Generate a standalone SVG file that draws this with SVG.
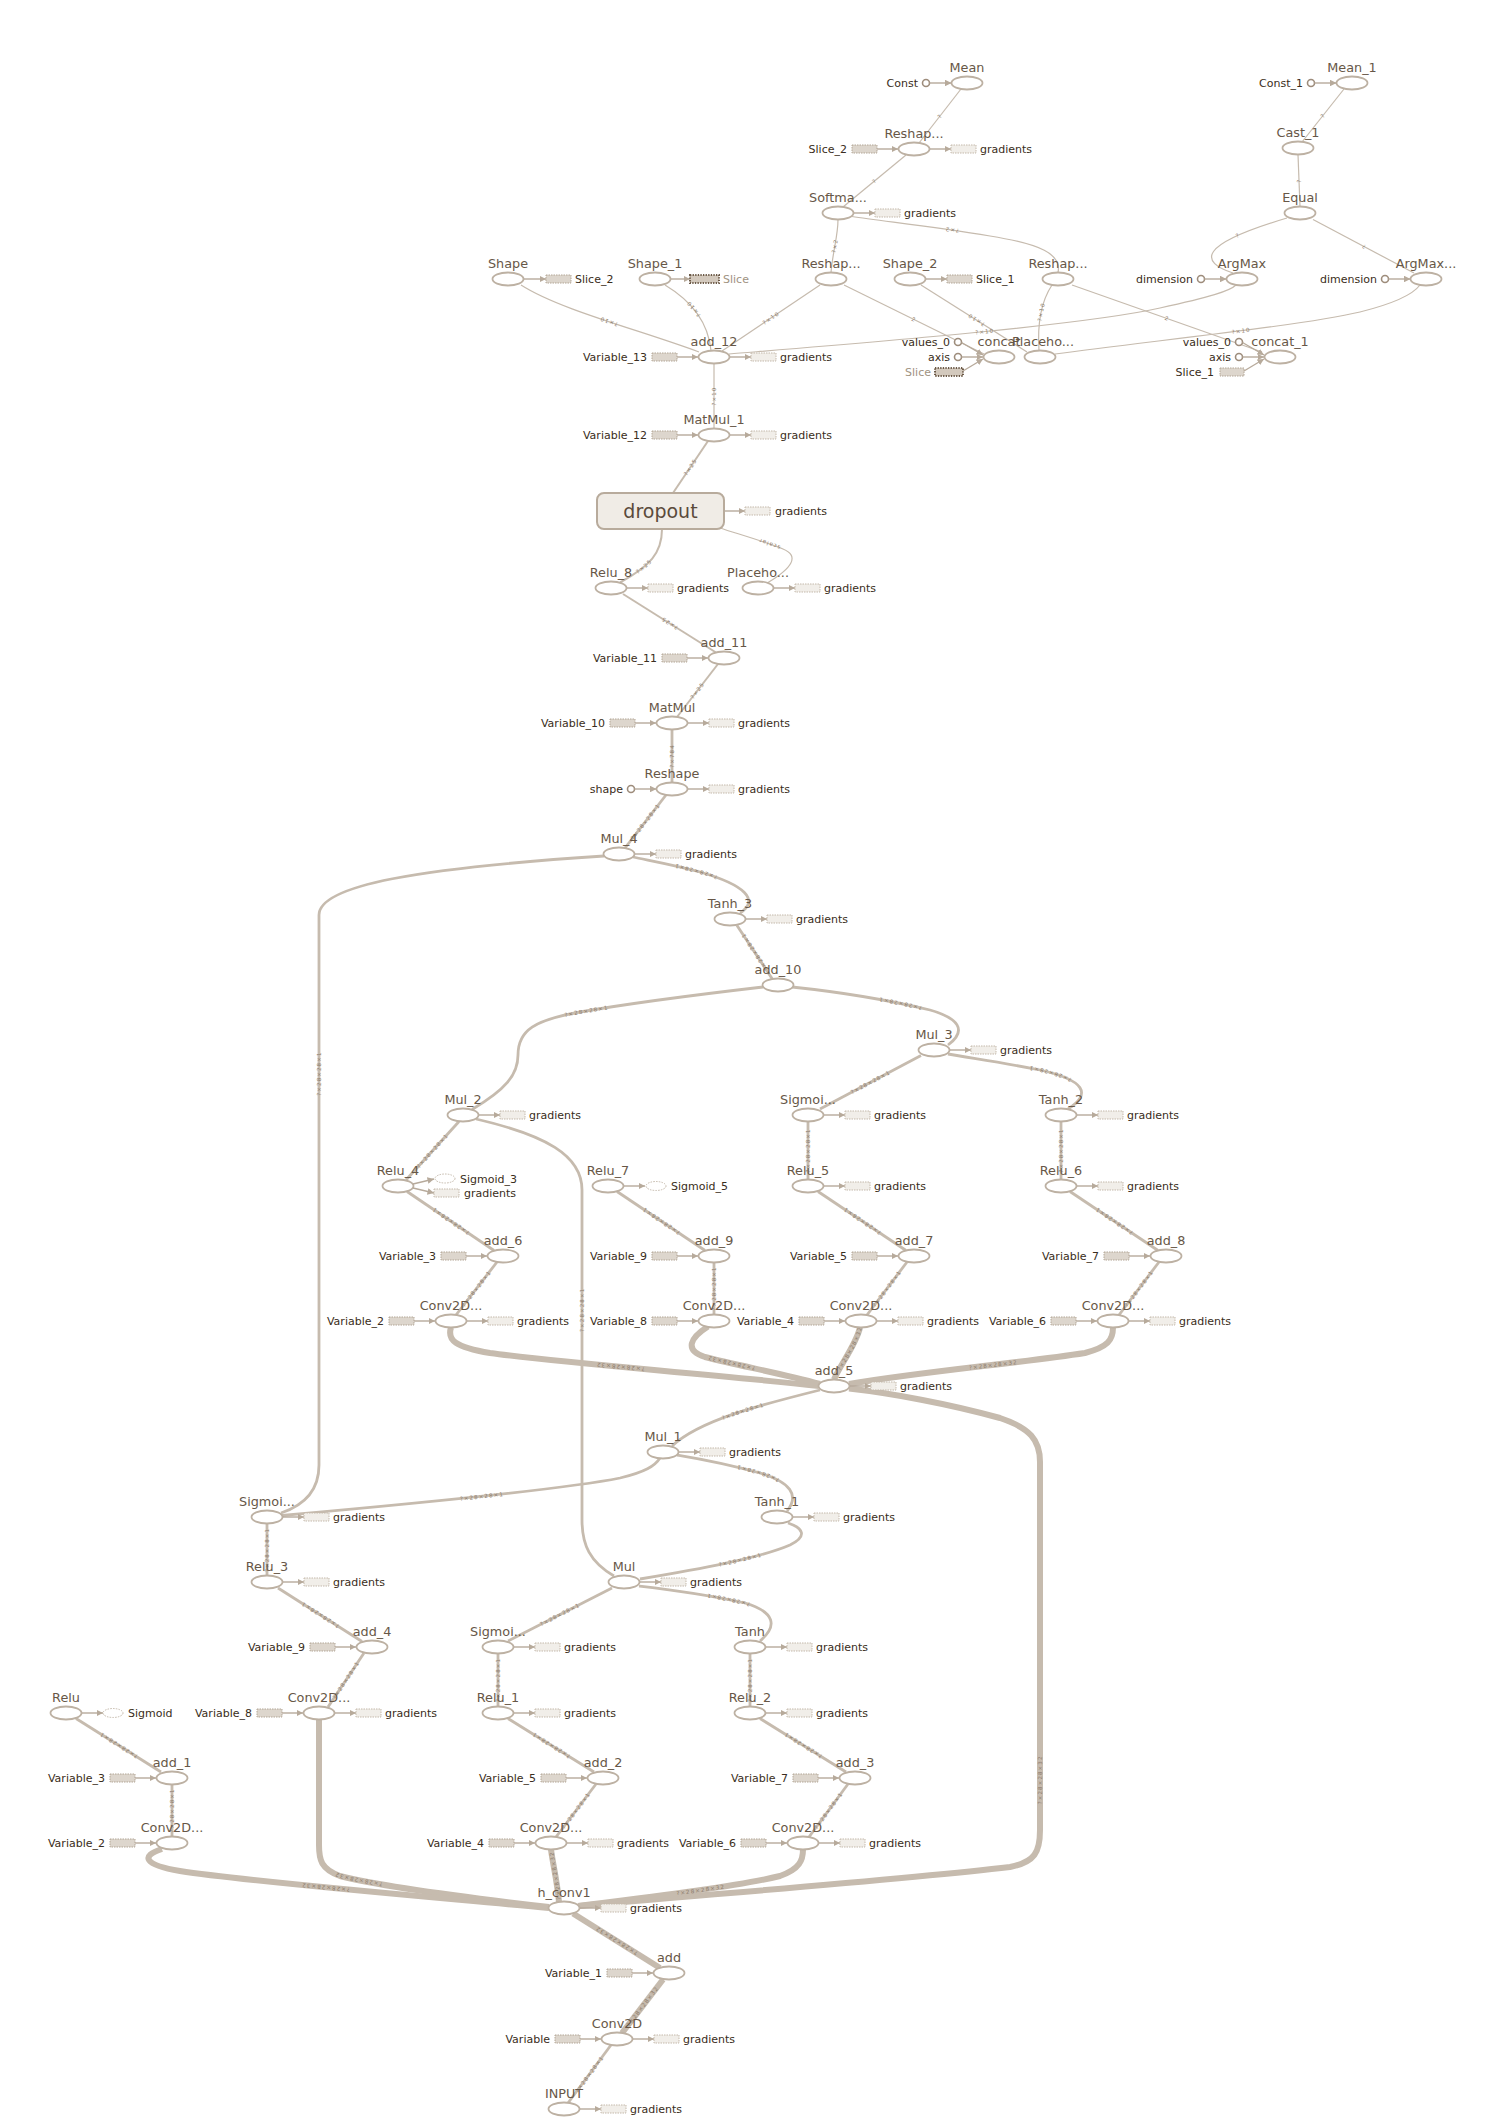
<svg xmlns="http://www.w3.org/2000/svg" width="1507" height="2122" viewBox="0 0 1507 2122">
<defs>
  <marker id="ah" viewBox="0 0 10 10" refX="10" refY="5" markerWidth="6.5" markerHeight="6.5" markerUnits="userSpaceOnUse" orient="auto">
    <path d="M0,0 L10,5 L0,10 z" fill="#b7aa9b"/>
  </marker>
</defs>
<style>
  text { font-family: "DejaVu Sans", "Noto Sans", sans-serif; }
  .op { fill: #fff; stroke: #bdb1a3; stroke-width: 1.8; }
  .lbl { font-size: 12.8px; fill: #675747; text-anchor: middle; }
  .al { font-size: 11px; fill: #3a2d20; }
  .ar { text-anchor: end; }
  .dim { fill: #a09282; }
  .var { fill: #ddd6cd; stroke: #b3a696; stroke-width: 1; stroke-dasharray: 1.5 1; }
  .grad { fill: #f1eee9; stroke: #c4b9ab; stroke-width: 1; stroke-dasharray: 1.5 1; }
  .cst { fill: #fff; stroke: #9d8c7b; stroke-width: 1.6; }
  .sig { fill: #fff; stroke: #c4b9ab; stroke-width: 1; stroke-dasharray: 1.5 1.2; }
  .stripe { fill: #d3c9bd; stroke: #6c5a48; stroke-width: 2; stroke-dasharray: 1.3 1.3; }
  .aux { stroke: #b7aa9b; stroke-width: 1.4; fill: none; marker-end: url(#ah); }
  .e { fill: none; stroke: #c6bbae; }
  .w1 { stroke-width: 1.2; }
  .w2 { stroke-width: 2; }
  .w3 { stroke-width: 2.8; }
  .w4 { stroke-width: 6; }
  .el { font-size: 5.5px; fill: #8b7a69; letter-spacing: 1.1px; text-anchor: middle; }
  .drop { fill: #f0ece6; stroke: #b8ab9c; stroke-width: 2; }
</style>

<!-- data edges, drawn from the producing op (below) to the consuming op (above) -->
<g id="edges">
  <path id="e1" class="e w1" d="M919 143 L961 89"/>
  <path id="e2" class="e w1" d="M843 207 L906 155"/>
  <path id="e3" class="e w1" d="M1302 142 L1344 89"/>
  <path id="e4" class="e w1" d="M1300 206.5 L1298 154.5"/>
  <path id="e5" class="e w1" d="M1233 273 C1200 262,1196 245,1287 218"/>
  <path id="e6" class="e w1" d="M1414 273 L1313 219.5"/>
  <path id="e7" class="e w1" d="M831 272.5 C833 250,838 236,838 219.5"/>
  <path id="e8" class="e w1" d="M1058 272.5 C1062 254,1040 244,990 236 C930 226,880 221,852 216.5"/>
  <path id="e9" class="e w1" d="M722 351 L820 285"/>
  <path id="e10" class="e w1" d="M844 285 L984 354"/>
  <path id="e11" class="e w1" d="M699 352 C640 330,560 310,521 285"/>
  <path id="e12" class="e w1" d="M711 350.5 C708 320,690 300,665 285"/>
  <path id="e13" class="e w1" d="M714 428.5 L714 363.5"/>
  <path id="e14" class="e w1" d="M1027 352 L921 285"/>
  <path id="e15" class="e w1" d="M729 354 C850 344,1080 326,1160 308 C1210 297,1230 291,1236 285"/>
  <path id="e16" class="e w1" d="M1055 354 C1150 341,1300 326,1360 312 C1400 302,1414 293,1420 285"/>
  <path id="e17" class="e w1" d="M1039 350.5 C1037 320,1042 300,1052 285"/>
  <path id="e18" class="e w1" d="M1072 285 L1262 352"/>
  <path id="e19" class="e w2" d="M673 493 L708 441"/>
  <path id="e20" class="e w2" d="M620 582.5 C650 566,662 553,662 529"/>
  <path id="e21" class="e w1" d="M768 582.5 C792 568,800 556,783 549 C760 540,738 534,720 528"/>
  <path id="e22" class="e w2" d="M716 652.5 L623 594"/>
  <path id="e23" class="e w2" d="M677 717 L718 664"/>
  <path id="e24" class="e w3" d="M672 782.5 L672 729.5"/>
  <path id="e25" class="e w3" d="M625 848 L666 795"/>
  <path id="e26" class="e w3" d="M740 913 C760 900,745 885,700 872 C670 864,646 860,633 857"/>
  <path id="e27" class="e w3" d="M281 1513 C305 1505,319 1490,319 1465 L319 915 C319 885,420 868,604 856"/>
  <path id="e28" class="e w3" d="M772 978.5 L737 925.5"/>
  <path id="e29" class="e w3" d="M472 1109.5 C505 1090,518 1075,518 1055 C518 1030,535 1020,580 1012 C650 1000,720 992,763 987"/>
  <path id="e30" class="e w3" d="M948 1045 C968 1030,958 1018,930 1010 C880 998,830 991,792 987"/>
  <path id="e31" class="e w3" d="M820 1109 L921 1055.5"/>
  <path id="e32" class="e w3" d="M1068 1109 C1092 1094,1085 1080,1040 1070 C1000 1062,970 1058,948 1054"/>
  <path id="e33" class="e w3" d="M808 1179.5 L808 1121.5"/>
  <path id="e34" class="e w3" d="M1061 1179.5 L1061 1121.5"/>
  <path id="e35" class="e w3" d="M906 1250.5 L818 1191.5"/>
  <path id="e36" class="e w3" d="M1158 1250.5 L1070 1191.5"/>
  <path id="e37" class="e w3" d="M867 1315 L907 1262"/>
  <path id="e38" class="e w3" d="M1119 1315 L1159 1262"/>
  <path id="e39" class="e w3" d="M406 1180 L459 1121.5"/>
  <path id="e40" class="e w3" d="M614 1576 C590 1562,582 1545,582 1520 L582 1190 C582 1155,545 1135,476 1119"/>
  <path id="e41" class="e w3" d="M494 1250.5 L407 1191.5"/>
  <path id="e42" class="e w3" d="M705 1250.5 L617 1191.5"/>
  <path id="e44" class="e w3" d="M456 1315 L497 1262"/>
  <path id="e45" class="e w3" d="M714 1314.5 L714 1262.5"/>
  <path id="e46" class="e w4" d="M819 1386 C700 1373,560 1363,490 1353 C455 1347,447 1340,451 1327.5"/>
  <path id="e47" class="e w4" d="M820 1384 C780 1373,740 1366,705 1357 C684 1350,690 1338,708 1326.5"/>
  <path id="e48" class="e w4" d="M834 1379.5 C840 1365,856 1345,860 1327.5"/>
  <path id="e49" class="e w4" d="M849 1384 C920 1372,1020 1363,1085 1353 C1108 1347,1113 1340,1113 1327.5"/>
  <path id="e50" class="e w4" d="M579 1906 C700 1895,900 1880,1010 1867 C1035 1862,1040 1852,1040 1830 L1040 1462 C1040 1440,1030 1428,1000 1418 C950 1404,890 1393,849 1388.5"/>
  <path id="e51" class="e w3" d="M672 1446 C700 1420,760 1405,820 1390"/>
  <path id="e52" class="e w3" d="M282 1515.5 C400 1505,560 1490,620 1478 C645 1472,655 1466,660 1458"/>
  <path id="e53" class="e w3" d="M787 1511 C800 1495,790 1482,760 1473 C720 1462,695 1458,677 1455"/>
  <path id="e54" class="e w3" d="M640 1579 C700 1569,760 1558,790 1545 C808 1536,803 1528,788 1523"/>
  <path id="e55" class="e w3" d="M508 1641 L612 1588"/>
  <path id="e56" class="e w3" d="M760 1641 C778 1626,775 1612,745 1603 C700 1593,665 1589,639 1586"/>
  <path id="e57" class="e w3" d="M267 1576 L267 1524"/>
  <path id="e58" class="e w3" d="M362 1641.5 L278 1588"/>
  <path id="e59" class="e w3" d="M328 1707 L364 1653"/>
  <path id="e60" class="e w4" d="M549 1907 C470 1898,380 1886,340 1876 C321 1869,319 1860,319 1845 L319 1720"/>
  <path id="e61" class="e w3" d="M161 1772 L76 1718.5"/>
  <path id="e62" class="e w3" d="M172 1836.5 L172 1784.5"/>
  <path id="e63" class="e w4" d="M549 1908 C420 1896,250 1882,180 1871 C144 1865,140 1856,162 1849"/>
  <path id="e64" class="e w3" d="M498 1706.5 L498 1653.5"/>
  <path id="e65" class="e w3" d="M594 1772 L508 1718.5"/>
  <path id="e66" class="e w3" d="M556 1837 L596 1784"/>
  <path id="e67" class="e w4" d="M559 1902 C557 1880,553 1865,551 1849.5"/>
  <path id="e68" class="e w3" d="M750 1706.5 L750 1653.5"/>
  <path id="e69" class="e w3" d="M846 1772 L760 1718.5"/>
  <path id="e70" class="e w3" d="M809 1837 L848 1784"/>
  <path id="e71" class="e w4" d="M578 1906 C650 1897,740 1886,780 1876 C800 1869,803 1860,803 1849.5"/>
  <path id="e72" class="e w4" d="M660 1968 L573 1913.5"/>
  <path id="e73" class="e w4" d="M622 2033 L663 1979.5"/>
  <path id="e74" class="e w3" d="M568 2103 L611 2045"/>

  <!-- tensor shape labels along the edges -->
  <text class="el" dy="2"><textPath href="#e1" startOffset="50%">?</textPath></text>
  <text class="el" dy="2"><textPath href="#e2" startOffset="50%">?</textPath></text>
  <text class="el" dy="2"><textPath href="#e3" startOffset="50%">?</textPath></text>
  <text class="el" dy="2"><textPath href="#e4" startOffset="50%">?</textPath></text>
  <text class="el" dy="2"><textPath href="#e5" startOffset="55%">?</textPath></text>
  <text class="el" dy="2"><textPath href="#e6" startOffset="50%">?</textPath></text>
  <text class="el" dy="2"><textPath href="#e7" startOffset="50%">?×2</textPath></text>
  <text class="el" dy="2"><textPath href="#e8" startOffset="55%">?×2</textPath></text>
  <text class="el" dy="2"><textPath href="#e9" startOffset="50%">?×10</textPath></text>
  <text class="el" dy="2"><textPath href="#e10" startOffset="50%">2</textPath></text>
  <text class="el" dy="2"><textPath href="#e11" startOffset="50%">?×10</textPath></text>
  <text class="el" dy="2"><textPath href="#e12" startOffset="55%">?×10</textPath></text>
  <text class="el" dy="2"><textPath href="#e13" startOffset="50%">?×10</textPath></text>
  <text class="el" dy="2"><textPath href="#e14" startOffset="48%">?×10</textPath></text>
  <text class="el" dy="2"><textPath href="#e15" startOffset="50%">?×10</textPath></text>
  <text class="el" dy="2"><textPath href="#e16" startOffset="50%">?×10</textPath></text>
  <text class="el" dy="2"><textPath href="#e17" startOffset="57%">?×10</textPath></text>
  <text class="el" dy="2"><textPath href="#e18" startOffset="50%">2</textPath></text>
  <text class="el" dy="2"><textPath href="#e19" startOffset="50%">?×25</textPath></text>
  <text class="el" dy="2"><textPath href="#e20" startOffset="40%">?×25</textPath></text>
  <text class="el" dy="2"><textPath href="#e21" startOffset="55%">scalar</textPath></text>
  <text class="el" dy="2"><textPath href="#e22" startOffset="50%">?×25</textPath></text>
  <text class="el" dy="2"><textPath href="#e23" startOffset="50%">?×25</textPath></text>
  <text class="el" dy="2"><textPath href="#e24" startOffset="50%">?×784</textPath></text>
  <text class="el" dy="2"><textPath href="#e25" startOffset="50%">?×28×28×1</textPath></text>
  <text class="el" dy="2"><textPath href="#e26" startOffset="55%">?×28×28×1</textPath></text>
  <text class="el" dy="2"><textPath href="#e27" startOffset="50%">?×28×28×1</textPath></text>
  <text class="el" dy="2"><textPath href="#e28" startOffset="50%">?×28×28×1</textPath></text>
  <text class="el" dy="2"><textPath href="#e29" startOffset="48%">?×28×28×1</textPath></text>
  <text class="el" dy="2"><textPath href="#e30" startOffset="44%">?×28×28×1</textPath></text>
  <text class="el" dy="2"><textPath href="#e31" startOffset="50%">?×28×28×1</textPath></text>
  <text class="el" dy="2"><textPath href="#e32" startOffset="37%">?×28×28×1</textPath></text>
  <text class="el" dy="2"><textPath href="#e33" startOffset="50%">?×28×28×1</textPath></text>
  <text class="el" dy="2"><textPath href="#e34" startOffset="50%">?×28×28×1</textPath></text>
  <text class="el" dy="2"><textPath href="#e35" startOffset="50%">?×28×28×1</textPath></text>
  <text class="el" dy="2"><textPath href="#e36" startOffset="50%">?×28×28×1</textPath></text>
  <text class="el" dy="2"><textPath href="#e37" startOffset="50%">?×28×28×1</textPath></text>
  <text class="el" dy="2"><textPath href="#e38" startOffset="50%">?×28×28×1</textPath></text>
  <text class="el" dy="2"><textPath href="#e39" startOffset="50%">?×28×28×1</textPath></text>
  <text class="el" dy="2"><textPath href="#e40" startOffset="52%">?×28×28×1</textPath></text>
  <text class="el" dy="2"><textPath href="#e41" startOffset="50%">?×28×28×1</textPath></text>
  <text class="el" dy="2"><textPath href="#e42" startOffset="50%">?×28×28×1</textPath></text>
  <text class="el" dy="2"><textPath href="#e44" startOffset="50%">?×28×28×1</textPath></text>
  <text class="el" dy="2"><textPath href="#e45" startOffset="50%">?×28×28×1</textPath></text>
  <text class="el" dy="2"><textPath href="#e46" startOffset="52%">?×28×28×32</textPath></text>
  <text class="el" dy="2"><textPath href="#e47" startOffset="56%">?×28×28×32</textPath></text>
  <text class="el" dy="2"><textPath href="#e48" startOffset="60%">?×28×28×32</textPath></text>
  <text class="el" dy="2"><textPath href="#e49" startOffset="52%">?×28×28×32</textPath></text>
  <text class="el" dy="2"><textPath href="#e50" startOffset="50%">?×28×28×32</textPath></text>
  <text class="el" dy="2"><textPath href="#e51" startOffset="50%">?×28×28×1</textPath></text>
  <text class="el" dy="2"><textPath href="#e52" startOffset="52%">?×28×28×1</textPath></text>
  <text class="el" dy="2"><textPath href="#e53" startOffset="42%">?×28×28×1</textPath></text>
  <text class="el" dy="2"><textPath href="#e54" startOffset="54%">?×28×28×1</textPath></text>
  <text class="el" dy="2"><textPath href="#e55" startOffset="50%">?×28×28×1</textPath></text>
  <text class="el" dy="2"><textPath href="#e56" startOffset="45%">?×28×28×1</textPath></text>
  <text class="el" dy="2"><textPath href="#e57" startOffset="50%">?×28×28×1</textPath></text>
  <text class="el" dy="2"><textPath href="#e58" startOffset="50%">?×28×28×1</textPath></text>
  <text class="el" dy="2"><textPath href="#e59" startOffset="50%">?×28×28×1</textPath></text>
  <text class="el" dy="2"><textPath href="#e60" startOffset="51%">?×28×28×32</textPath></text>
  <text class="el" dy="2"><textPath href="#e61" startOffset="50%">?×28×28×1</textPath></text>
  <text class="el" dy="2"><textPath href="#e62" startOffset="50%">?×28×28×1</textPath></text>
  <text class="el" dy="2"><textPath href="#e63" startOffset="53%">?×28×28×32</textPath></text>
  <text class="el" dy="2"><textPath href="#e64" startOffset="50%">?×28×28×1</textPath></text>
  <text class="el" dy="2"><textPath href="#e65" startOffset="50%">?×28×28×1</textPath></text>
  <text class="el" dy="2"><textPath href="#e66" startOffset="50%">?×28×28×1</textPath></text>
  <text class="el" dy="2"><textPath href="#e67" startOffset="50%">?×28×28×32</textPath></text>
  <text class="el" dy="2"><textPath href="#e68" startOffset="50%">?×28×28×1</textPath></text>
  <text class="el" dy="2"><textPath href="#e69" startOffset="50%">?×28×28×1</textPath></text>
  <text class="el" dy="2"><textPath href="#e70" startOffset="50%">?×28×28×1</textPath></text>
  <text class="el" dy="2"><textPath href="#e71" startOffset="51%">?×28×28×32</textPath></text>
  <text class="el" dy="2"><textPath href="#e72" startOffset="50%">?×28×28×32</textPath></text>
  <text class="el" dy="2"><textPath href="#e73" startOffset="50%">?×28×28×32</textPath></text>
  <text class="el" dy="2"><textPath href="#e74" startOffset="50%">?×28×28×1</textPath></text>
</g>

<!-- ops -->
<g id="n-mean"><ellipse class="op" cx="967" cy="83" rx="15.5" ry="6.5"/><text class="lbl" x="967" y="71.5">Mean</text>
  <circle class="cst" cx="926" cy="83" r="3.5"/><line class="aux" x1="929.5" y1="83" x2="951.5" y2="83"/><text class="al ar" x="918" y="87">Const</text></g>
<g id="n-mean_1"><ellipse class="op" cx="1352" cy="83" rx="15.5" ry="6.5"/><text class="lbl" x="1352" y="71.5">Mean_1</text>
  <circle class="cst" cx="1311" cy="83" r="3.5"/><line class="aux" x1="1314.5" y1="83" x2="1336.5" y2="83"/><text class="al ar" x="1303" y="87">Const_1</text></g>
<g id="n-reshape_3"><ellipse class="op" cx="914" cy="149" rx="15.5" ry="6.5"/><text class="lbl" x="914" y="137.5">Reshap...</text>
  <rect class="var" x="852" y="145" width="25" height="8"/><line class="aux" x1="877" y1="149" x2="898" y2="149"/><text class="al ar" x="847" y="153">Slice_2</text>
  <line class="aux" x1="930" y1="149" x2="951" y2="149"/><rect class="grad" x="951" y="145" width="25" height="8"/><text class="al" x="980" y="153">gradients</text></g>
<g id="n-cast_1"><ellipse class="op" cx="1298" cy="148" rx="15.5" ry="6.5"/><text class="lbl" x="1298" y="136.5">Cast_1</text></g>
<g id="n-softmax"><ellipse class="op" cx="838" cy="213" rx="15.5" ry="6.5"/><text class="lbl" x="838" y="201.5">Softma...</text>
  <line class="aux" x1="854" y1="213" x2="875" y2="213"/><rect class="grad" x="875" y="209" width="25" height="8"/><text class="al" x="904" y="217">gradients</text></g>
<g id="n-equal"><ellipse class="op" cx="1300" cy="213" rx="15.5" ry="6.5"/><text class="lbl" x="1300" y="201.5">Equal</text></g>
<g id="n-shape"><ellipse class="op" cx="508" cy="279" rx="15.5" ry="6.5"/><text class="lbl" x="508" y="267.5">Shape</text>
  <line class="aux" x1="524" y1="279" x2="546" y2="279"/><rect class="var" x="546" y="275" width="25" height="8"/><text class="al" x="575" y="283">Slice_2</text></g>
<g id="n-shape_1"><ellipse class="op" cx="655" cy="279" rx="15.5" ry="6.5"/><text class="lbl" x="655" y="267.5">Shape_1</text>
  <line class="aux" x1="671" y1="279" x2="690" y2="279"/><rect class="stripe" x="690" y="275" width="29" height="8"/><text class="al dim" x="723" y="283">Slice</text></g>
<g id="n-reshape_2"><ellipse class="op" cx="831" cy="279" rx="15.5" ry="6.5"/><text class="lbl" x="831" y="267.5">Reshap...</text></g>
<g id="n-shape_2"><ellipse class="op" cx="910" cy="279" rx="15.5" ry="6.5"/><text class="lbl" x="910" y="267.5">Shape_2</text>
  <line class="aux" x1="926" y1="279" x2="947" y2="279"/><rect class="var" x="947" y="275" width="25" height="8"/><text class="al" x="976" y="283">Slice_1</text></g>
<g id="n-reshape_1"><ellipse class="op" cx="1058" cy="279" rx="15.5" ry="6.5"/><text class="lbl" x="1058" y="267.5">Reshap...</text></g>
<g id="n-argmax"><ellipse class="op" cx="1242" cy="279" rx="15.5" ry="6.5"/><text class="lbl" x="1242" y="267.5">ArgMax</text>
  <circle class="cst" cx="1201" cy="279" r="3.5"/><line class="aux" x1="1204.5" y1="279" x2="1226.5" y2="279"/><text class="al ar" x="1193" y="283">dimension</text></g>
<g id="n-argmax_1"><ellipse class="op" cx="1426" cy="279" rx="15.5" ry="6.5"/><text class="lbl" x="1426" y="267.5">ArgMax...</text>
  <circle class="cst" cx="1385" cy="279" r="3.5"/><line class="aux" x1="1388.5" y1="279" x2="1410.5" y2="279"/><text class="al ar" x="1377" y="283">dimension</text></g>
<g id="n-add_12"><ellipse class="op" cx="714" cy="357" rx="15.5" ry="6.5"/><text class="lbl" x="714" y="345.5">add_12</text>
  <rect class="var" x="652" y="353" width="25" height="8"/><line class="aux" x1="677" y1="357" x2="698" y2="357"/><text class="al ar" x="647" y="361">Variable_13</text>
  <line class="aux" x1="730" y1="357" x2="751" y2="357"/><rect class="grad" x="751" y="353" width="25" height="8"/><text class="al" x="780" y="361">gradients</text></g>
<g id="n-concat"><ellipse class="op" cx="999" cy="357" rx="15.5" ry="6.5"/><text class="lbl" x="999" y="345.5">concat</text>
  <circle class="cst" cx="958" cy="342" r="3.5"/><line class="aux" x1="961.5" y1="342.5" x2="983" y2="355"/><text class="al ar" x="950" y="346">values_0</text>
  <circle class="cst" cx="958" cy="357" r="3.5"/><line class="aux" x1="961.5" y1="357" x2="983" y2="357"/><text class="al ar" x="950" y="361">axis</text>
  <rect class="stripe" x="935" y="368" width="28" height="8"/><line class="aux" x1="963" y1="371" x2="983" y2="359"/><text class="al ar dim" x="931" y="376">Slice</text></g>
<g id="n-placeholder_1"><ellipse class="op" cx="1040" cy="357" rx="15.5" ry="6.5"/><text class="lbl" x="1043" y="345.5">Placeho...</text></g>
<g id="n-concat_1"><ellipse class="op" cx="1280" cy="357" rx="15.5" ry="6.5"/><text class="lbl" x="1280" y="345.5">concat_1</text>
  <circle class="cst" cx="1239" cy="342" r="3.5"/><line class="aux" x1="1242.5" y1="342.5" x2="1264" y2="355"/><text class="al ar" x="1231" y="346">values_0</text>
  <circle class="cst" cx="1239" cy="357" r="3.5"/><line class="aux" x1="1242.5" y1="357" x2="1264" y2="357"/><text class="al ar" x="1231" y="361">axis</text>
  <rect class="var" x="1220" y="368" width="24" height="8"/><line class="aux" x1="1244" y1="371" x2="1264" y2="359"/><text class="al ar" x="1214" y="376">Slice_1</text></g>
<g id="n-matmul_1"><ellipse class="op" cx="714" cy="435" rx="15.5" ry="6.5"/><text class="lbl" x="714" y="423.5">MatMul_1</text>
  <rect class="var" x="652" y="431" width="25" height="8"/><line class="aux" x1="677" y1="435" x2="698" y2="435"/><text class="al ar" x="647" y="439">Variable_12</text>
  <line class="aux" x1="730" y1="435" x2="751" y2="435"/><rect class="grad" x="751" y="431" width="25" height="8"/><text class="al" x="780" y="439">gradients</text></g>
<g id="n-dropout"><rect class="drop" x="597" y="493" width="127" height="36" rx="7"/><text x="660.5" y="518" font-size="19" fill="#5a4a3b" text-anchor="middle">dropout</text>
  <line class="aux" x1="724" y1="511" x2="745" y2="511"/><rect class="grad" x="745" y="507" width="25" height="8"/><text class="al" x="775" y="515">gradients</text></g>
<g id="n-relu_8"><ellipse class="op" cx="611" cy="588" rx="15.5" ry="6.5"/><text class="lbl" x="611" y="576.5">Relu_8</text>
  <line class="aux" x1="627" y1="588" x2="648" y2="588"/><rect class="grad" x="648" y="584" width="25" height="8"/><text class="al" x="677" y="592">gradients</text></g>
<g id="n-placeholder"><ellipse class="op" cx="758" cy="588" rx="15.5" ry="6.5"/><text class="lbl" x="758" y="576.5">Placeho...</text>
  <line class="aux" x1="774" y1="588" x2="795" y2="588"/><rect class="grad" x="795" y="584" width="25" height="8"/><text class="al" x="824" y="592">gradients</text></g>
<g id="n-add_11"><ellipse class="op" cx="724" cy="658" rx="15.5" ry="6.5"/><text class="lbl" x="724" y="646.5">add_11</text>
  <rect class="var" x="662" y="654" width="25" height="8"/><line class="aux" x1="687" y1="658" x2="708" y2="658"/><text class="al ar" x="657" y="662">Variable_11</text></g>
<g id="n-matmul"><ellipse class="op" cx="672" cy="723" rx="15.5" ry="6.5"/><text class="lbl" x="672" y="711.5">MatMul</text>
  <rect class="var" x="610" y="719" width="25" height="8"/><line class="aux" x1="635" y1="723" x2="656" y2="723"/><text class="al ar" x="605" y="727">Variable_10</text>
  <line class="aux" x1="688" y1="723" x2="709" y2="723"/><rect class="grad" x="709" y="719" width="25" height="8"/><text class="al" x="738" y="727">gradients</text></g>
<g id="n-reshape"><ellipse class="op" cx="672" cy="789" rx="15.5" ry="6.5"/><text class="lbl" x="672" y="777.5">Reshape</text>
  <circle class="cst" cx="631" cy="789" r="3.5"/><line class="aux" x1="634.5" y1="789" x2="656.5" y2="789"/><text class="al ar" x="623" y="793">shape</text>
  <line class="aux" x1="688" y1="789" x2="709" y2="789"/><rect class="grad" x="709" y="785" width="25" height="8"/><text class="al" x="738" y="793">gradients</text></g>
<g id="n-mul_4"><ellipse class="op" cx="619" cy="854" rx="15.5" ry="6.5"/><text class="lbl" x="619" y="842.5">Mul_4</text>
  <line class="aux" x1="635" y1="854" x2="656" y2="854"/><rect class="grad" x="656" y="850" width="25" height="8"/><text class="al" x="685" y="858">gradients</text></g>
<g id="n-tanh_3"><ellipse class="op" cx="730" cy="919" rx="15.5" ry="6.5"/><text class="lbl" x="730" y="907.5">Tanh_3</text>
  <line class="aux" x1="746" y1="919" x2="767" y2="919"/><rect class="grad" x="767" y="915" width="25" height="8"/><text class="al" x="796" y="923">gradients</text></g>
<g id="n-add_10"><ellipse class="op" cx="778" cy="985" rx="15.5" ry="6.5"/><text class="lbl" x="778" y="973.5">add_10</text></g>
<g id="n-mul_3"><ellipse class="op" cx="934" cy="1050" rx="15.5" ry="6.5"/><text class="lbl" x="934" y="1038.5">Mul_3</text>
  <line class="aux" x1="950" y1="1050" x2="971" y2="1050"/><rect class="grad" x="971" y="1046" width="25" height="8"/><text class="al" x="1000" y="1054">gradients</text></g>
<g id="n-mul_2"><ellipse class="op" cx="463" cy="1115" rx="15.5" ry="6.5"/><text class="lbl" x="463" y="1103.5">Mul_2</text>
  <line class="aux" x1="479" y1="1115" x2="500" y2="1115"/><rect class="grad" x="500" y="1111" width="25" height="8"/><text class="al" x="529" y="1119">gradients</text></g>
<g id="n-sigmoid_7"><ellipse class="op" cx="808" cy="1115" rx="15.5" ry="6.5"/><text class="lbl" x="808" y="1103.5">Sigmoi...</text>
  <line class="aux" x1="824" y1="1115" x2="845" y2="1115"/><rect class="grad" x="845" y="1111" width="25" height="8"/><text class="al" x="874" y="1119">gradients</text></g>
<g id="n-tanh_2"><ellipse class="op" cx="1061" cy="1115" rx="15.5" ry="6.5"/><text class="lbl" x="1061" y="1103.5">Tanh_2</text>
  <line class="aux" x1="1077" y1="1115" x2="1098" y2="1115"/><rect class="grad" x="1098" y="1111" width="25" height="8"/><text class="al" x="1127" y="1119">gradients</text></g>
<g id="n-relu_4"><ellipse class="op" cx="398" cy="1186" rx="15.5" ry="6.5"/><text class="lbl" x="398" y="1174.5">Relu_4</text>
  <line class="aux" x1="413" y1="1184" x2="434" y2="1179"/><ellipse class="sig" cx="445" cy="1178.5" rx="10" ry="4.5"/><text class="al" x="460" y="1182.5">Sigmoid_3</text>
  <line class="aux" x1="413" y1="1188" x2="434" y2="1193"/><rect class="grad" x="434" y="1189" width="25" height="8"/><text class="al" x="464" y="1197">gradients</text></g>
<g id="n-relu_7"><ellipse class="op" cx="608" cy="1186" rx="15.5" ry="6.5"/><text class="lbl" x="608" y="1174.5">Relu_7</text>
  <line class="aux" x1="624" y1="1186" x2="645" y2="1186"/><ellipse class="sig" cx="656" cy="1186" rx="10" ry="4.5"/><text class="al" x="671" y="1190">Sigmoid_5</text></g>
<g id="n-relu_5"><ellipse class="op" cx="808" cy="1186" rx="15.5" ry="6.5"/><text class="lbl" x="808" y="1174.5">Relu_5</text>
  <line class="aux" x1="824" y1="1186" x2="845" y2="1186"/><rect class="grad" x="845" y="1182" width="25" height="8"/><text class="al" x="874" y="1190">gradients</text></g>
<g id="n-relu_6"><ellipse class="op" cx="1061" cy="1186" rx="15.5" ry="6.5"/><text class="lbl" x="1061" y="1174.5">Relu_6</text>
  <line class="aux" x1="1077" y1="1186" x2="1098" y2="1186"/><rect class="grad" x="1098" y="1182" width="25" height="8"/><text class="al" x="1127" y="1190">gradients</text></g>
<g id="n-add_6"><ellipse class="op" cx="503" cy="1256" rx="15.5" ry="6.5"/><text class="lbl" x="503" y="1244.5">add_6</text>
  <rect class="var" x="441" y="1252" width="25" height="8"/><line class="aux" x1="466" y1="1256" x2="487" y2="1256"/><text class="al ar" x="436" y="1260">Variable_3</text></g>
<g id="n-add_9"><ellipse class="op" cx="714" cy="1256" rx="15.5" ry="6.5"/><text class="lbl" x="714" y="1244.5">add_9</text>
  <rect class="var" x="652" y="1252" width="25" height="8"/><line class="aux" x1="677" y1="1256" x2="698" y2="1256"/><text class="al ar" x="647" y="1260">Variable_9</text></g>
<g id="n-add_7"><ellipse class="op" cx="914" cy="1256" rx="15.5" ry="6.5"/><text class="lbl" x="914" y="1244.5">add_7</text>
  <rect class="var" x="852" y="1252" width="25" height="8"/><line class="aux" x1="877" y1="1256" x2="898" y2="1256"/><text class="al ar" x="847" y="1260">Variable_5</text></g>
<g id="n-add_8"><ellipse class="op" cx="1166" cy="1256" rx="15.5" ry="6.5"/><text class="lbl" x="1166" y="1244.5">add_8</text>
  <rect class="var" x="1104" y="1252" width="25" height="8"/><line class="aux" x1="1129" y1="1256" x2="1150" y2="1256"/><text class="al ar" x="1099" y="1260">Variable_7</text></g>
<g id="n-conv2d_3"><ellipse class="op" cx="451" cy="1321" rx="15.5" ry="6.5"/><text class="lbl" x="451" y="1309.5">Conv2D...</text>
  <rect class="var" x="389" y="1317" width="25" height="8"/><line class="aux" x1="414" y1="1321" x2="435" y2="1321"/><text class="al ar" x="384" y="1325">Variable_2</text>
  <line class="aux" x1="467" y1="1321" x2="488" y2="1321"/><rect class="grad" x="488" y="1317" width="25" height="8"/><text class="al" x="517" y="1325">gradients</text></g>
<g id="n-conv2d_9"><ellipse class="op" cx="714" cy="1321" rx="15.5" ry="6.5"/><text class="lbl" x="714" y="1309.5">Conv2D...</text>
  <rect class="var" x="652" y="1317" width="25" height="8"/><line class="aux" x1="677" y1="1321" x2="698" y2="1321"/><text class="al ar" x="647" y="1325">Variable_8</text></g>
<g id="n-conv2d_5"><ellipse class="op" cx="861" cy="1321" rx="15.5" ry="6.5"/><text class="lbl" x="861" y="1309.5">Conv2D...</text>
  <rect class="var" x="799" y="1317" width="25" height="8"/><line class="aux" x1="824" y1="1321" x2="845" y2="1321"/><text class="al ar" x="794" y="1325">Variable_4</text>
  <line class="aux" x1="877" y1="1321" x2="898" y2="1321"/><rect class="grad" x="898" y="1317" width="25" height="8"/><text class="al" x="927" y="1325">gradients</text></g>
<g id="n-conv2d_7"><ellipse class="op" cx="1113" cy="1321" rx="15.5" ry="6.5"/><text class="lbl" x="1113" y="1309.5">Conv2D...</text>
  <rect class="var" x="1051" y="1317" width="25" height="8"/><line class="aux" x1="1076" y1="1321" x2="1097" y2="1321"/><text class="al ar" x="1046" y="1325">Variable_6</text>
  <line class="aux" x1="1129" y1="1321" x2="1150" y2="1321"/><rect class="grad" x="1150" y="1317" width="25" height="8"/><text class="al" x="1179" y="1325">gradients</text></g>
<g id="n-add_5"><ellipse class="op" cx="834" cy="1386" rx="15.5" ry="6.5"/><text class="lbl" x="834" y="1374.5">add_5</text>
  <line class="aux" x1="850" y1="1386" x2="871" y2="1386"/><rect class="grad" x="871" y="1382" width="25" height="8"/><text class="al" x="900" y="1390">gradients</text></g>
<g id="n-mul_1"><ellipse class="op" cx="663" cy="1452" rx="15.5" ry="6.5"/><text class="lbl" x="663" y="1440.5">Mul_1</text>
  <line class="aux" x1="679" y1="1452" x2="700" y2="1452"/><rect class="grad" x="700" y="1448" width="25" height="8"/><text class="al" x="729" y="1456">gradients</text></g>
<g id="n-sigmoid_4"><ellipse class="op" cx="267" cy="1517" rx="15.5" ry="6.5"/><text class="lbl" x="267" y="1505.5">Sigmoi...</text>
  <line class="aux" x1="283" y1="1517" x2="304" y2="1517"/><rect class="grad" x="304" y="1513" width="25" height="8"/><text class="al" x="333" y="1521">gradients</text></g>
<g id="n-tanh_1"><ellipse class="op" cx="777" cy="1517" rx="15.5" ry="6.5"/><text class="lbl" x="777" y="1505.5">Tanh_1</text>
  <line class="aux" x1="793" y1="1517" x2="814" y2="1517"/><rect class="grad" x="814" y="1513" width="25" height="8"/><text class="al" x="843" y="1521">gradients</text></g>
<g id="n-relu_3"><ellipse class="op" cx="267" cy="1582" rx="15.5" ry="6.5"/><text class="lbl" x="267" y="1570.5">Relu_3</text>
  <line class="aux" x1="283" y1="1582" x2="304" y2="1582"/><rect class="grad" x="304" y="1578" width="25" height="8"/><text class="al" x="333" y="1586">gradients</text></g>
<g id="n-mul"><ellipse class="op" cx="624" cy="1582" rx="15.5" ry="6.5"/><text class="lbl" x="624" y="1570.5">Mul</text>
  <line class="aux" x1="640" y1="1582" x2="661" y2="1582"/><rect class="grad" x="661" y="1578" width="25" height="8"/><text class="al" x="690" y="1586">gradients</text></g>
<g id="n-add_4"><ellipse class="op" cx="372" cy="1647" rx="15.5" ry="6.5"/><text class="lbl" x="372" y="1635.5">add_4</text>
  <rect class="var" x="310" y="1643" width="25" height="8"/><line class="aux" x1="335" y1="1647" x2="356" y2="1647"/><text class="al ar" x="305" y="1651">Variable_9</text></g>
<g id="n-sigmoid_2"><ellipse class="op" cx="498" cy="1647" rx="15.5" ry="6.5"/><text class="lbl" x="498" y="1635.5">Sigmoi...</text>
  <line class="aux" x1="514" y1="1647" x2="535" y2="1647"/><rect class="grad" x="535" y="1643" width="25" height="8"/><text class="al" x="564" y="1651">gradients</text></g>
<g id="n-tanh"><ellipse class="op" cx="750" cy="1647" rx="15.5" ry="6.5"/><text class="lbl" x="750" y="1635.5">Tanh</text>
  <line class="aux" x1="766" y1="1647" x2="787" y2="1647"/><rect class="grad" x="787" y="1643" width="25" height="8"/><text class="al" x="816" y="1651">gradients</text></g>
<g id="n-relu"><ellipse class="op" cx="66" cy="1713" rx="15.5" ry="6.5"/><text class="lbl" x="66" y="1701.5">Relu</text>
  <line class="aux" x1="82" y1="1713" x2="103" y2="1713"/><ellipse class="sig" cx="113" cy="1713" rx="10" ry="4.5"/><text class="al" x="128" y="1717">Sigmoid</text></g>
<g id="n-conv2d_8"><ellipse class="op" cx="319" cy="1713" rx="15.5" ry="6.5"/><text class="lbl" x="319" y="1701.5">Conv2D...</text>
  <rect class="var" x="257" y="1709" width="25" height="8"/><line class="aux" x1="282" y1="1713" x2="303" y2="1713"/><text class="al ar" x="252" y="1717">Variable_8</text>
  <line class="aux" x1="335" y1="1713" x2="356" y2="1713"/><rect class="grad" x="356" y="1709" width="25" height="8"/><text class="al" x="385" y="1717">gradients</text></g>
<g id="n-relu_1"><ellipse class="op" cx="498" cy="1713" rx="15.5" ry="6.5"/><text class="lbl" x="498" y="1701.5">Relu_1</text>
  <line class="aux" x1="514" y1="1713" x2="535" y2="1713"/><rect class="grad" x="535" y="1709" width="25" height="8"/><text class="al" x="564" y="1717">gradients</text></g>
<g id="n-relu_2"><ellipse class="op" cx="750" cy="1713" rx="15.5" ry="6.5"/><text class="lbl" x="750" y="1701.5">Relu_2</text>
  <line class="aux" x1="766" y1="1713" x2="787" y2="1713"/><rect class="grad" x="787" y="1709" width="25" height="8"/><text class="al" x="816" y="1717">gradients</text></g>
<g id="n-add_1"><ellipse class="op" cx="172" cy="1778" rx="15.5" ry="6.5"/><text class="lbl" x="172" y="1766.5">add_1</text>
  <rect class="var" x="110" y="1774" width="25" height="8"/><line class="aux" x1="135" y1="1778" x2="156" y2="1778"/><text class="al ar" x="105" y="1782">Variable_3</text></g>
<g id="n-add_2"><ellipse class="op" cx="603" cy="1778" rx="15.5" ry="6.5"/><text class="lbl" x="603" y="1766.5">add_2</text>
  <rect class="var" x="541" y="1774" width="25" height="8"/><line class="aux" x1="566" y1="1778" x2="587" y2="1778"/><text class="al ar" x="536" y="1782">Variable_5</text></g>
<g id="n-add_3"><ellipse class="op" cx="855" cy="1778" rx="15.5" ry="6.5"/><text class="lbl" x="855" y="1766.5">add_3</text>
  <rect class="var" x="793" y="1774" width="25" height="8"/><line class="aux" x1="818" y1="1778" x2="839" y2="1778"/><text class="al ar" x="788" y="1782">Variable_7</text></g>
<g id="n-conv2d_2"><ellipse class="op" cx="172" cy="1843" rx="15.5" ry="6.5"/><text class="lbl" x="172" y="1831.5">Conv2D...</text>
  <rect class="var" x="110" y="1839" width="25" height="8"/><line class="aux" x1="135" y1="1843" x2="156" y2="1843"/><text class="al ar" x="105" y="1847">Variable_2</text></g>
<g id="n-conv2d_4"><ellipse class="op" cx="551" cy="1843" rx="15.5" ry="6.5"/><text class="lbl" x="551" y="1831.5">Conv2D...</text>
  <rect class="var" x="489" y="1839" width="25" height="8"/><line class="aux" x1="514" y1="1843" x2="535" y2="1843"/><text class="al ar" x="484" y="1847">Variable_4</text>
  <line class="aux" x1="567" y1="1843" x2="588" y2="1843"/><rect class="grad" x="588" y="1839" width="25" height="8"/><text class="al" x="617" y="1847">gradients</text></g>
<g id="n-conv2d_6"><ellipse class="op" cx="803" cy="1843" rx="15.5" ry="6.5"/><text class="lbl" x="803" y="1831.5">Conv2D...</text>
  <rect class="var" x="741" y="1839" width="25" height="8"/><line class="aux" x1="766" y1="1843" x2="787" y2="1843"/><text class="al ar" x="736" y="1847">Variable_6</text>
  <line class="aux" x1="819" y1="1843" x2="840" y2="1843"/><rect class="grad" x="840" y="1839" width="25" height="8"/><text class="al" x="869" y="1847">gradients</text></g>
<g id="n-h_conv1"><ellipse class="op" cx="564" cy="1908" rx="15.5" ry="6.5"/><text class="lbl" x="564" y="1896.5">h_conv1</text>
  <line class="aux" x1="580" y1="1908" x2="601" y2="1908"/><rect class="grad" x="601" y="1904" width="25" height="8"/><text class="al" x="630" y="1912">gradients</text></g>
<g id="n-add"><ellipse class="op" cx="669" cy="1973" rx="15.5" ry="6.5"/><text class="lbl" x="669" y="1961.5">add</text>
  <rect class="var" x="607" y="1969" width="25" height="8"/><line class="aux" x1="632" y1="1973" x2="653" y2="1973"/><text class="al ar" x="602" y="1977">Variable_1</text></g>
<g id="n-conv2d"><ellipse class="op" cx="617" cy="2039" rx="15.5" ry="6.5"/><text class="lbl" x="617" y="2027.5">Conv2D</text>
  <rect class="var" x="555" y="2035" width="25" height="8"/><line class="aux" x1="580" y1="2039" x2="601" y2="2039"/><text class="al ar" x="550" y="2043">Variable</text>
  <line class="aux" x1="633" y1="2039" x2="654" y2="2039"/><rect class="grad" x="654" y="2035" width="25" height="8"/><text class="al" x="683" y="2043">gradients</text></g>
<g id="n-input"><ellipse class="op" cx="564" cy="2109" rx="15.5" ry="6.5"/><text class="lbl" x="564" y="2097.5">INPUT</text>
  <line class="aux" x1="580" y1="2109" x2="601" y2="2109"/><rect class="grad" x="601" y="2105" width="25" height="8"/><text class="al" x="630" y="2113">gradients</text></g>
</svg>
